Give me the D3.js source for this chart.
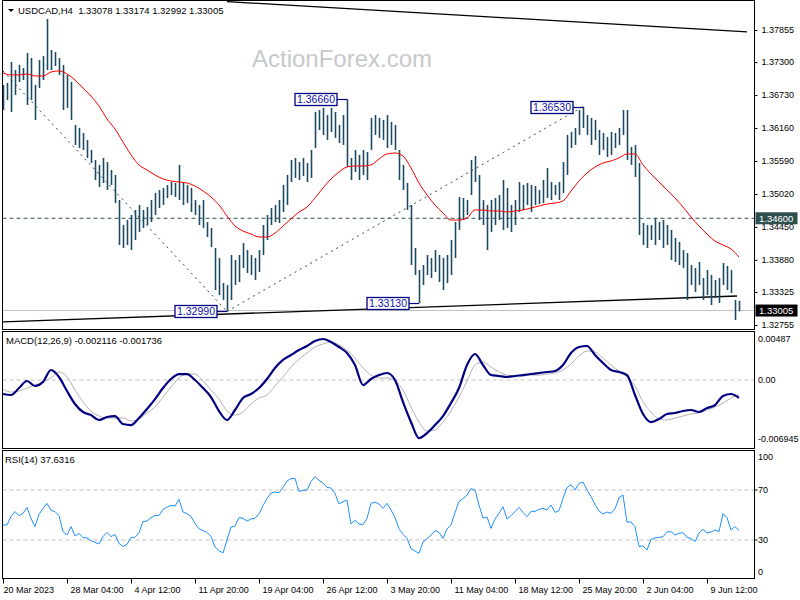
<!DOCTYPE html>
<html><head><meta charset="utf-8">
<script src="https://cdn.jsdelivr.net/npm/d3@7"></script>
<style>body{margin:0;background:#fff}svg{display:block}</style>
</head><body>
<script>
// ---------------- DATA ----------------
const symbol = "USDCAD,H4";
const lastOHLC = [1.33078, 1.33174, 1.32992, 1.33005];
const barStep = 2;   // one plotted bar per 2 H4 bars
const lineStep = 4;  // MA / MACD sampled every 4 H4 bars
const barHigh = [
1.36905,1.36939,1.37302,1.37164,1.37251,1.37199,1.37457,1.37371,1.36905,1.37337,
1.37405,1.38045,1.37509,1.37474,1.37371,1.37251,1.37078,1.36956,1.36214,1.36162,
1.36075,1.35954,1.35781,1.35608,1.35522,1.35643,1.35573,1.35435,1.35349,1.34916,
1.34484,1.34570,1.34657,1.34743,1.34830,1.34743,1.34795,1.34916,1.35037,1.35089,
1.35124,1.35176,1.35227,1.35210,1.35522,1.35227,1.35176,1.35124,1.34916,1.34830,
1.34916,1.34535,1.34432,1.34086,1.33914,1.33481,1.33446,1.33965,1.33879,1.33965,
1.34172,1.34051,1.33965,1.33914,1.34051,1.34484,1.34657,1.34778,1.34830,1.34916,
1.35176,1.35349,1.35608,1.35643,1.35573,1.35643,1.35556,1.35781,1.36437,1.36472,
1.36507,1.36386,1.36507,1.36437,1.36214,1.36386,1.36660,1.35643,1.35781,1.35695,
1.35781,1.35746,1.36334,1.36386,1.36334,1.36300,1.36386,1.36265,1.36214,1.35781,
1.35522,1.35210,1.34830,1.34086,1.33706,1.33792,1.33965,1.33914,1.34051,1.33965,
1.33914,1.33965,1.34224,1.34535,1.34968,1.34951,1.34916,1.35608,1.35677,1.35349,
1.34916,1.34830,1.34916,1.34951,1.35003,1.35262,1.35124,1.34830,1.34916,1.35227,
1.35176,1.35210,1.35176,1.35158,1.35089,1.35262,1.35470,1.35227,1.35176,1.35227,
1.35573,1.36041,1.36093,1.36162,1.36472,1.36530,1.36386,1.36334,1.36300,1.36127,
1.36075,1.36006,1.36093,1.36075,1.36162,1.36472,1.36472,1.35833,1.35868,1.35556,
1.34518,1.34484,1.34484,1.34605,1.34535,1.34570,1.34484,1.34397,1.34259,1.34190,
1.34051,1.33999,1.33792,1.33740,1.33844,1.33567,1.33706,1.33619,1.33533,1.33567,
1.33827,1.33775,1.33706,1.33187,1.33174];
const barLow = [
1.36472,1.36645,1.36437,1.36732,1.36956,1.36991,1.36559,1.36645,1.36300,1.36853,
1.36991,1.37164,1.37164,1.37233,1.37078,1.36472,1.36507,1.36300,1.35868,1.35816,
1.35781,1.35643,1.35556,1.35262,1.35141,1.35210,1.35089,1.35176,1.34864,1.34138,
1.34086,1.34138,1.34051,1.34224,1.34362,1.34432,1.34484,1.34535,1.34657,1.34778,
1.34830,1.34951,1.35003,1.34968,1.34916,1.34830,1.34864,1.34708,1.34657,1.34484,
1.34432,1.34276,1.34103,1.33360,1.33273,1.33187,1.32990,1.33187,1.33446,1.33498,
1.33740,1.33654,1.33619,1.33533,1.33671,1.33965,1.34224,1.34484,1.34535,1.34518,
1.34708,1.34830,1.35227,1.35297,1.35262,1.35332,1.35227,1.35297,1.35816,1.36127,
1.36041,1.35954,1.36093,1.35989,1.35902,1.35868,1.35487,1.35262,1.35400,1.35262,
1.35349,1.35262,1.35781,1.36041,1.35989,1.35954,1.35816,1.35868,1.35781,1.35262,
1.35089,1.34743,1.33792,1.33619,1.33130,1.33446,1.33619,1.33567,1.33671,1.33498,
1.33360,1.33481,1.33619,1.33914,1.34397,1.34570,1.34657,1.35003,1.35227,1.34570,
1.34484,1.34051,1.34362,1.34484,1.34570,1.34397,1.34432,1.34362,1.34484,1.34708,
1.34743,1.34830,1.34708,1.34830,1.34847,1.34864,1.34951,1.34916,1.35003,1.34916,
1.35037,1.35349,1.35816,1.35868,1.36041,1.36162,1.36041,1.35868,1.35954,1.35695,
1.35781,1.35660,1.35695,1.35816,1.35868,1.36041,1.35608,1.35522,1.35314,1.34311,
1.34138,1.34086,1.34224,1.34138,1.34224,1.34086,1.34138,1.33879,1.33844,1.33792,
1.33740,1.33187,1.33446,1.33325,1.33446,1.33187,1.33273,1.33101,1.33221,1.33135,
1.33446,1.33360,1.33308,1.32841,1.32992];
const movingAvg = [
1.37112,1.37078,1.37078,1.37095,1.37060,1.37060,1.37129,1.37147,1.37095,1.36991,
1.36853,1.36714,1.36541,1.36317,1.36144,1.35919,1.35695,1.35522,1.35435,1.35349,
1.35280,1.35245,1.35227,1.35210,1.35158,1.35072,1.34968,1.34830,1.34639,1.34467,
1.34380,1.34328,1.34276,1.34276,1.34345,1.34467,1.34588,1.34708,1.34795,1.34951,
1.35124,1.35280,1.35400,1.35487,1.35504,1.35504,1.35522,1.35625,1.35712,1.35729,
1.35677,1.35470,1.35210,1.35003,1.34830,1.34691,1.34570,1.34570,1.34605,1.34743,
1.34743,1.34726,1.34726,1.34708,1.34726,1.34743,1.34778,1.34812,1.34847,1.34864,
1.34899,1.35072,1.35245,1.35383,1.35487,1.35556,1.35591,1.35643,1.35712,1.35712,
1.35522,1.35366,1.35227,1.35089,1.34951,1.34795,1.34622,1.34467,1.34328,1.34207,
1.34138,1.34069,1.33930];
const macdMain = [
-0.00166,-0.00178,-0.00095,-0.00012,-0.00071,-0.00024,0.00119,0.00036,-0.00131,-0.00285,
-0.00380,-0.00416,-0.00475,-0.00439,-0.00428,-0.00523,-0.00535,-0.00451,-0.00344,-0.00226,
-0.00095,0.00012,0.00071,0.00071,0.00000,-0.00095,-0.00202,-0.00368,-0.00475,-0.00356,
-0.00214,-0.00166,-0.00095,0.00012,0.00143,0.00238,0.00297,0.00356,0.00404,0.00463,
0.00487,0.00451,0.00392,0.00321,0.00178,-0.00059,0.00012,0.00059,0.00083,0.00000,
-0.00261,-0.00499,-0.00690,-0.00630,-0.00535,-0.00428,-0.00273,-0.00095,0.00178,0.00309,
0.00178,0.00059,0.00048,0.00036,0.00048,0.00059,0.00071,0.00083,0.00095,0.00107,
0.00178,0.00321,0.00392,0.00404,0.00297,0.00202,0.00119,0.00095,0.00059,-0.00178,
-0.00404,-0.00499,-0.00463,-0.00404,-0.00392,-0.00368,-0.00356,-0.00380,-0.00333,-0.00297,
-0.00190,-0.00166,-0.00212];
const macdSignal = [
-0.00107,-0.00143,-0.00131,-0.00095,-0.00059,-0.00024,0.00024,0.00095,0.00036,-0.00119,
-0.00261,-0.00368,-0.00428,-0.00451,-0.00451,-0.00451,-0.00487,-0.00463,-0.00392,-0.00321,
-0.00202,-0.00083,0.00024,0.00071,0.00071,-0.00012,-0.00119,-0.00226,-0.00368,-0.00416,
-0.00380,-0.00285,-0.00214,-0.00178,-0.00071,0.00036,0.00154,0.00249,0.00321,0.00392,
0.00428,0.00451,0.00416,0.00356,0.00261,0.00143,0.00059,0.00024,0.00024,-0.00012,
-0.00119,-0.00321,-0.00499,-0.00606,-0.00594,-0.00499,-0.00368,-0.00202,-0.00012,0.00178,
0.00214,0.00154,0.00095,0.00059,0.00048,0.00048,0.00059,0.00059,0.00071,0.00083,
0.00119,0.00190,0.00285,0.00344,0.00333,0.00261,0.00178,0.00107,0.00036,-0.00071,
-0.00261,-0.00380,-0.00463,-0.00475,-0.00451,-0.00428,-0.00404,-0.00392,-0.00356,-0.00321,
-0.00273,-0.00214,-0.00174];
const rsiValues = [
42.0,42.0,48.7,52.7,49.5,51.3,56.1,47.3,40.7,50.5,
55.3,59.3,53.7,52.7,49.5,36.7,34.0,40.7,33.2,35.3,
31.9,31.6,29.5,28.1,26.8,32.7,36.1,32.7,34.5,27.3,
24.7,26.5,32.1,32.1,35.9,44.7,45.2,47.9,49.5,49.7,
54.3,56.4,57.7,57.2,62.5,52.4,51.1,48.9,43.1,39.1,
37.5,36.1,32.9,24.4,21.5,19.6,30.0,40.4,41.2,47.9,
47.3,45.2,46.8,47.3,50.8,57.5,63.3,67.6,68.4,67.9,
72.1,77.2,79.1,79.3,68.9,69.7,70.0,76.7,80.7,77.7,
75.6,72.1,71.6,67.3,58.8,60.7,62.0,42.8,45.7,42.8,
42.3,47.3,59.3,60.4,58.8,55.3,59.3,54.0,48.1,39.1,
34.5,31.3,23.1,21.2,19.3,28.4,31.1,34.0,37.5,36.1,
31.3,38.8,42.0,51.9,60.7,63.1,66.0,71.1,70.0,58.0,
47.6,48.4,39.3,46.8,51.3,56.7,46.8,49.5,52.7,56.1,
52.1,48.7,52.9,52.9,54.5,55.3,54.0,58.0,52.1,53.5,
63.3,71.9,74.3,70.0,75.3,76.4,70.0,64.7,58.5,53.2,
50.8,52.4,51.3,54.8,63.9,66.0,44.4,44.4,40.7,24.9,
25.2,22.0,30.5,31.6,32.1,32.7,36.4,36.7,34.0,35.3,
35.9,32.1,31.3,28.7,35.6,38.5,35.6,36.4,38.0,36.7,
51.1,47.9,38.0,40.7,37.6];
const priceTicks = [1.37855,1.37300,1.36730,1.36160,1.35590,1.35020,1.34450,1.33880,1.33325,1.32755];
const timeLabels = ["20 Mar 2023","28 Mar 04:00","4 Apr 12:00","11 Apr 20:00","19 Apr 04:00","26 Apr 12:00",
  "3 May 20:00","11 May 04:00","18 May 12:00","25 May 20:00","2 Jun 04:00","9 Jun 12:00"];
const barsPerLabel = 32;
const levelPrice = 1.34600;
const pivotBar = [112, 172, 208, 290];
const pivotPrice = [1.32990, 1.36660, 1.33130, 1.36530];
const trendTop = [[112, 1.38346], [372, 1.37824]];
const trendBottom = [[-0.5, 1.32807], [367, 1.33256]];
const dotted1 = [[0, 1.37146], [112, 1.32990]];
const dotted2 = [[112, 1.32990], [290, 1.36530]];
const macdParams = [12, 26, 9];
const macdLast = [-0.002116, -0.001736];
const macdRange = [-0.006945, 0.00487];
const rsiPeriod = 14, rsiLast = 37.6316;
const rsiLevels = [100, 70, 30, 0];

// ---------------- DRAW ----------------
const FONT = "'Liberation Sans', Arial, sans-serif";
const svg = d3.select("body").append("svg").attr("width", 800).attr("height", 600)
  .attr("font-family", FONT);
const LEFT = 2.5, RIGHT = 754.5;
const panes = {main: [0.5, 329.5], macd: [331.5, 448.5], rsi: [450.5, 578.5]};

const x = d3.scaleLinear().domain([0, 369]).range([3, 741]);
const yP = d3.scaleLinear().domain([1.32755, 1.37855]).range([325, 30]);
const yM = d3.scaleLinear().domain(macdRange).range([438.5, 339]);
const yR = d3.scaleLinear().domain([0, 100]).range([577.5, 452.5]);

const defs = svg.append("defs");
Object.entries(panes).forEach(([k, [t, b]]) => {
  defs.append("clipPath").attr("id", "clip-" + k).append("rect")
    .attr("x", LEFT + 0.5).attr("y", t + 0.5).attr("width", RIGHT - LEFT - 1).attr("height", b - t - 1);
});

// ---- main pane
const gm = svg.append("g").attr("clip-path", "url(#clip-main)");
gm.append("text").attr("x", 252).attr("y", 67).attr("font-size", 24).attr("fill", "#c6c9cd")
  .text("ActionForex.com");
gm.append("line").attr("x1", LEFT).attr("x2", RIGHT).attr("y1", yP(levelPrice)).attr("y2", yP(levelPrice))
  .attr("stroke", "#2f4f4f").attr("stroke-dasharray", "4,3");
gm.append("line").attr("x1", LEFT).attr("x2", RIGHT).attr("y1", yP(lastOHLC[3])).attr("y2", yP(lastOHLC[3]))
  .attr("stroke", "#c0c0c0");
const seg = d3.line().x(d => x(d[0])).y(d => yP(d[1]));
[trendTop, trendBottom].forEach(tl => gm.append("path").attr("d", seg(tl)).attr("stroke", "#000")
  .attr("stroke-width", 1.3).attr("fill", "none"));
[dotted1, dotted2].forEach(tl => gm.append("path").attr("d", seg(tl)).attr("stroke", "#2f4f4f")
  .attr("stroke-dasharray", "2,4").attr("fill", "none"));

const bars = barHigh.map((h, i) => ({t: i * barStep, h, l: barLow[i]}));
gm.selectAll("line.bar").data(bars).join("line").attr("class", "bar")
  .attr("x1", d => x(d.t) + 0.5).attr("x2", d => x(d.t) + 0.5)
  .attr("y1", d => yP(d.h)).attr("y2", d => yP(d.l))
  .attr("stroke", "#1c4a66").attr("stroke-width", 1.6);

gm.append("path").datum(movingAvg)
  .attr("d", d3.line().x((d, i) => x(i * lineStep)).y(d => yP(d)).curve(d3.curveMonotoneX))
  .attr("stroke", "#ff0000").attr("fill", "none").attr("stroke-width", 1);

// pivot labels
const piv = pivotBar.map((t, i) => ({t, p: pivotPrice[i]}));
const pg = svg.append("g");
piv.forEach(d => {
  const px = x(d.t), py = Math.round(yP(d.p)) + 0.5;
  pg.append("line").attr("x1", px - 10).attr("x2", px).attr("y1", py).attr("y2", py)
    .attr("stroke", "#000080").attr("stroke-width", 1.2);
  pg.append("rect").attr("x", px - 52).attr("y", py - 6).attr("width", 42).attr("height", 12)
    .attr("fill", "#fff").attr("stroke", "#000080").attr("stroke-width", 1.3);
  pg.append("text").attr("x", px - 31).attr("y", py).attr("dy", "0.36em").attr("text-anchor", "middle")
    .attr("font-size", 10.5).attr("fill", "#1010b0").text(d3.format(".5f")(d.p));
});

// title
svg.append("path").attr("d", "M8,9L14,9L11,12Z").attr("fill", "#000");
svg.append("text").attr("x", 18).attr("y", 14).attr("font-size", 9.5).attr("fill", "#000")
  .style("white-space", "pre").text(symbol + "  " + lastOHLC.map(d3.format(".5f")).join(" "));

// price axis
const axP = svg.append("g").attr("transform", `translate(${RIGHT},0)`)
  .call(d3.axisRight(yP).tickValues(priceTicks).tickSize(3).tickPadding(4).tickFormat(d3.format(".5f")));
axP.attr("font-family", FONT).attr("font-size", 9);
axP.select(".domain").remove();
axP.selectAll("text").attr("fill", "#000");
// price markers
[[levelPrice, "#2f4f4f"], [lastOHLC[3], "#000"]].forEach(([p, c]) => {
  const py = yP(p);
  svg.append("rect").attr("x", 755.5).attr("y", py - 6).attr("width", 42).attr("height", 12).attr("fill", c);
  svg.append("text").attr("x", 759).attr("y", py).attr("dy", "0.35em").attr("font-size", 9.5)
    .attr("fill", "#fff").text(d3.format(".5f")(p));
});

// ---- MACD pane
const gd = svg.append("g").attr("clip-path", "url(#clip-macd)");
gd.append("line").attr("x1", LEFT).attr("x2", RIGHT).attr("y1", yM(0)).attr("y2", yM(0))
  .attr("stroke", "#c0c0c0").attr("stroke-dasharray", "4,3");
const lineM = d3.line().x((d, i) => x(i * lineStep)).y(d => yM(d)).curve(d3.curveMonotoneX);
gd.append("path").datum(macdSignal).attr("d", lineM).attr("fill", "none").attr("stroke", "#b4b4b4").attr("stroke-width", 1);
gd.append("path").datum(macdMain).attr("d", lineM).attr("fill", "none").attr("stroke", "#000080").attr("stroke-width", 2.2);
svg.append("text").attr("x", 6).attr("y", 341).attr("dy", "0.35em").attr("font-size", 9.5)
  .text(`MACD(${macdParams.join(",")}) ${macdLast[0].toFixed(6)} ${macdLast[1].toFixed(6)}`);
[[macdRange[1], "0.00487"], [0, "0.00"], [macdRange[0], "-0.006945"]].forEach(([v, s]) => {
  const yy = Math.min(Math.max(yM(v), 339), 441);
  svg.append("text").attr("x", 758).attr("y", yy).attr("dy", "0.35em").attr("font-size", 9).text(s);
});

// ---- RSI pane
const gr = svg.append("g").attr("clip-path", "url(#clip-rsi)");
[70, 30].forEach(v => gr.append("line").attr("x1", LEFT).attr("x2", RIGHT).attr("y1", yR(v)).attr("y2", yR(v))
  .attr("stroke", "#c0c0c0").attr("stroke-dasharray", "4,3"));
gr.append("path").datum(rsiValues)
  .attr("d", d3.line().x((d, i) => x(i * barStep)).y(d => yR(d)))
  .attr("fill", "none").attr("stroke", "#1e90ff").attr("stroke-width", 1);
svg.append("text").attr("x", 5).attr("y", 460).attr("dy", "0.35em").attr("font-size", 9.5)
  .text(`RSI(${rsiPeriod}) ${rsiLast.toFixed(4)}`);
rsiLevels.forEach(v => {
  const yy = Math.min(Math.max(yR(v), 457), 572);
  svg.append("text").attr("x", 758).attr("y", yy).attr("dy", "0.35em").attr("font-size", 9).text(v);
  if (v === 70 || v === 30) svg.append("line").attr("x1", RIGHT).attr("x2", RIGHT + 3)
    .attr("y1", yR(v)).attr("y2", yR(v)).attr("stroke", "#000");
});

// ---- time axis
const axX = svg.append("g").attr("transform", "translate(0,578.5)")
  .call(d3.axisBottom(x).tickValues(timeLabels.map((d, i) => i * barsPerLabel))
    .tickFormat((d, i) => timeLabels[i]).tickSize(5).tickSizeOuter(0));
axX.attr("font-family", FONT).attr("font-size", 9);
axX.select(".domain").remove();
axX.selectAll("text").attr("text-anchor", "start").attr("x", (d, i) => i === 0 ? 0 : 3).attr("fill", "#000");

// ---- pane borders
Object.values(panes).forEach(([t, b]) => svg.append("rect").attr("x", LEFT).attr("y", t)
  .attr("width", RIGHT - LEFT).attr("height", b - t).attr("fill", "none").attr("stroke", "#000"));
</script>
</body></html>
